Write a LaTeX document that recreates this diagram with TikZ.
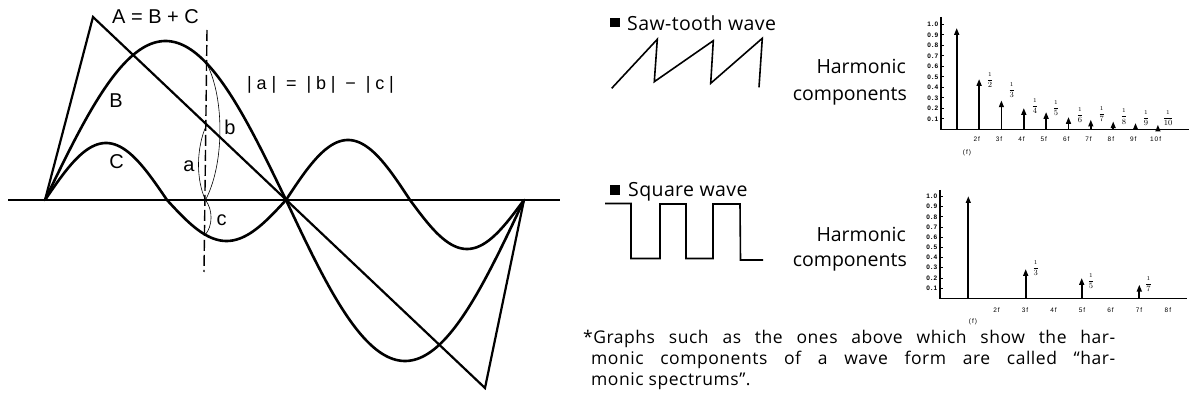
\documentclass[tikz,border=0pt]{standalone}
\usepackage{fontspec}
\setmainfont{Open Sans}
\newfontfamily\lab{Liberation Sans}
\newfontfamily\labsp[LetterSpace=27]{Liberation Sans}
\newfontfamily\tickfont[LetterSpace=15]{Liberation Sans}
\newfontfamily\titlefont[LetterSpace=2]{Open Sans}
\newfontfamily\footfont[LetterSpace=3]{Open Sans}
\usetikzlibrary{arrows.meta}
\begin{document}
\begin{tikzpicture}[x=1pt,y=-1pt,
  thickcurve/.style={line width=2.6pt, line join=round, line cap=round},
  sawline/.style={line width=2.2pt, line join=miter},
  axisline/.style={line width=1.5pt},
  thinarc/.style={line width=0.6pt},
  dashline/.style={line width=1.4pt, dash pattern=on 11pt off 4pt},
  biglabel/.style={font=\lab\fontsize{20}{20}\selectfont, inner sep=0pt},
  rtext/.style={font=\fontsize{19.5}{20}\selectfont, inner sep=0pt},
  ttext/.style={font=\titlefont\fontsize{19.5}{20}\selectfont, inner sep=0pt, anchor=base west},
  smallwave/.style={line width=1.6pt, line join=miter},
  spaxis/.style={line width=1.4pt},
  stemline/.style={line width=1.8pt},
  ticklab/.style={font=\tickfont\bfseries\fontsize{6.5}{6.5}\selectfont, inner sep=0pt, anchor=east},
  xlab/.style={font=\tickfont\fontsize{6.5}{6.5}\selectfont, inner sep=0pt},
  fraclab/.style={font=\fontsize{8.5}{8.5}\selectfont, inner sep=0pt},
  foot/.style={font=\footfont\fontsize{17.5}{20}\selectfont, inner sep=0pt, anchor=base west},
]
\useasboundingbox (0,0) rectangle (1189,406);

% ---------- left diagram ----------
\coordinate (O1) at (45,200);
\coordinate (O2) at (286,200);
\coordinate (O3) at (524,200);
\coordinate (Apk) at (93,17);
\coordinate (Abt) at (485,388);
\draw[axisline] (8,200) -- (560,200);
\draw[sawline] (O1) -- (Apk) -- (Abt) -- (O3);
% B
\draw[thickcurve] plot[domain=45:286, samples=90] (\x,{200-159*sin((\x-45)/241*180)})
  -- plot[domain=286:524, samples=90] (\x,{200+161*sin((\x-286)/238*180)});
% C
\draw[thickcurve] plot[domain=45:167, samples=50] (\x,{200-57*sin((\x-45)/122*180)})
  -- plot[domain=167:286, samples=50] (\x,{200+41*sin((\x-167)/119*180)})
  -- plot[domain=286:410, samples=50] (\x,{200-60*sin((\x-286)/124*180)})
  -- plot[domain=410:524, samples=50] (\x,{200+49*sin((\x-410)/114*180)});
% dashed line
\coordinate (Dtop) at (207,30);
\coordinate (Dbot) at (204,272);
\draw[dashline] (Dtop) -- (Dbot);
% arcs a, b, c
\coordinate (Bd) at (207,64);
\coordinate (Ad) at (206.5,125);
\coordinate (Zd) at (205.5,200);
\coordinate (Cd) at (205,235);
\draw[thinarc] (Bd) .. controls (225,100) and (224,165) .. (Zd);
\draw[thinarc] (Ad) .. controls (196,148) and (196,180) .. (Zd);
\draw[thinarc] (Zd) .. controls (213,210) and (213,226) .. (Cd);
% labels
\node[biglabel, anchor=base west] (lblA) at (112,24) {A = B + C};
\node[biglabel] (lblB) at (116,101) {B};
\node[biglabel] (lblC) at (116.5,161.5) {C};
\node[biglabel] (lbla) at (189,166) {a};
\node[biglabel] (lblb) at (230,127) {b};
\node[biglabel] (lblc) at (221.7,220) {c};
\node[inner sep=0pt, font=\labsp\fontsize{18}{18}\selectfont, anchor=base west] (eq) at (247,89.5) {|a| = |b| − |c|};

% ---------- saw-tooth ----------
\fill (610,18.3) rectangle (620,27.5);
\node[ttext] (saw) at (627,30.5) {Saw-tooth wave};
\draw[smallwave] (611.7,88.3) -- (657.3,39.3) -- (654.3,81.7) -- (713.3,40.7) -- (710.7,83.3) -- (762.3,38.3) -- (759,87.3);
\node[rtext, anchor=base east] (h1) at (906,73.3) {Harmonic};
\node[rtext, anchor=base east] (c1) at (907,100.7) {components};

% spectrum 1
\draw[spaxis] (941,17) -- (941,129.3) -- (1189,129.3);
\foreach \k/\t in {1/0.1,2/0.2,3/0.3,4/0.4,5/0.5,6/0.6,7/0.7,8/0.8,9/0.9,10/1.0}{
  \draw[line width=0.8pt] (941,{129.3-10.5*\k}) -- (943.5,{129.3-10.5*\k});
  \node[ticklab] at (938.5,{129.3-10.5*\k}) {\t};
}
\foreach \xx/\tp in {956.7/28.3, 979.1/79.3, 1001.4/100.7, 1023.8/108.3, 1046.1/112.3, 1068.5/117.3, 1090.8/120, 1113.2/121.7, 1135.5/123.3, 1157.9/125}{
  \draw[stemline] (\xx,129.3) -- (\xx,{\tp+4});
  \fill (\xx-2.7,\tp+6.5) -- (\xx,\tp) -- (\xx+2.7,\tp+6.5) -- cycle;
}
\foreach \xx/\yy/\n in {990/80/2, 1011.7/90/3, 1035/106/4, 1056/108/5, 1080/115/6, 1101.7/114/7, 1124/116.5/8, 1146/118/9, 1168/118/10}{
  \node[fraclab] at (\xx,\yy) {$\displaystyle\frac{\scriptstyle 1}{\n}$};
}
\foreach \xx/\t in {976.7/2f, 999/3f, 1021.5/4f, 1043.8/5f, 1066.2/6f, 1088.5/7f, 1110.9/8f, 1133.2/9f, 1155.6/10f}{
  \node[xlab] at (\xx,139) {\t};
}
\node[xlab] (f1lab) at (967,152.5) {(f)};

% ---------- square ----------
\fill (610,185) rectangle (620,195);
\node[ttext] (sq) at (628,197) {Square wave};
\draw[smallwave] (605,203.5) -- (631,203.5) -- (631,258.5) -- (660,258.5) -- (660,204) -- (686,204) -- (686,258.5) -- (713,258.5) -- (713,204) -- (740,204) -- (740.5,260) -- (763,260);
\node[rtext, anchor=base east] (h2) at (906,241.7) {Harmonic};
\node[rtext, anchor=base east] (c2) at (907,266.7) {components};

% spectrum 2
\draw[spaxis] (940,190) -- (940,298.3) -- (1187,298.3);
\foreach \k/\t in {1/0.1,2/0.2,3/0.3,4/0.4,5/0.5,6/0.6,7/0.7,8/0.8,9/0.9,10/1.0}{
  \draw[line width=0.8pt] (940,{298.3-10.18*\k}) -- (942.5,{298.3-10.18*\k});
  \node[ticklab] at (937.5,{298.3-10.18*\k}) {\t};
}
\foreach \xx/\tp in {968.3/196.5, 1025.7/269.3, 1081.7/278.3, 1139.3/285}{
  \draw[stemline] (\xx,298.3) -- (\xx,{\tp+4});
  \fill (\xx-2.7,\tp+6.5) -- (\xx,\tp) -- (\xx+2.7,\tp+6.5) -- cycle;
}
\foreach \xx/\yy/\n in {1035.7/268/3, 1091/281/5, 1148.5/284/7}{
  \node[fraclab] at (\xx,\yy) {$\displaystyle\frac{\scriptstyle 1}{\n}$};
}
\foreach \xx/\t in {996.6/2f, 1025/3f, 1053.5/4f, 1082/5f, 1110.5/6f, 1139/7f, 1167.9/8f}{
  \node[xlab] at (\xx,310) {\t};
}
\node[xlab] (f2lab) at (973,322) {(f)};

% ---------- footnote ----------
\node[foot] (fn1) at (583,343) {\makebox[532pt][s]{*Graphs such as the ones above which show the har-}};
\node[foot] (fn2) at (591,364) {\makebox[524pt][s]{monic components of a wave form are called “har-}};
\node[foot] (fn3) at (591,385) {monic spectrums”.};
\end{tikzpicture}
\end{document}
